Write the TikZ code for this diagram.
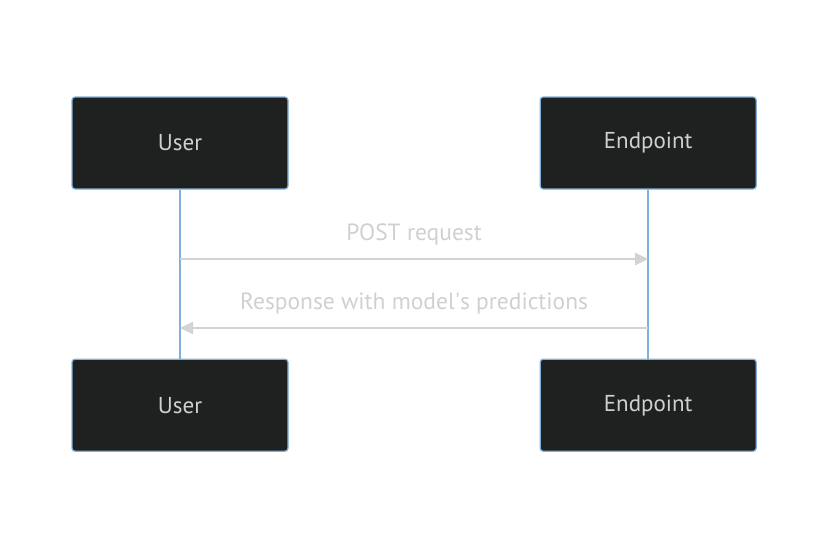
\documentclass[tikz,border=0pt]{standalone}
\usepackage{fontspec}
\setmainfont{PT Sans}
\usetikzlibrary{positioning,arrows.meta}

\definecolor{actorfill}{HTML}{1F2020}
\definecolor{actorline}{HTML}{81B1DB}
\definecolor{msgline}{HTML}{D3D3D3}
\definecolor{msgtext}{HTML}{D0D0D0}

\begin{document}
\begin{tikzpicture}[
    x=1pt, y=-1pt,
    actor/.style={
        rectangle,
        draw=actorline,
        fill=actorfill,
        line width=1.2pt,
        rounded corners=3pt,
        minimum width=216pt,
        minimum height=92pt,
        text=msgtext,
        font=\fontsize{23}{27}\selectfont
    },
    lifeline/.style={draw=actorline, line width=2.5pt},
    msg/.style={draw=msgline, line width=2pt, -{Triangle[length=13pt,width=12pt]}},
    msglabel/.style={text=msgtext, font=\fontsize{23.5}{27}\selectfont}
]

\useasboundingbox (0,0) rectangle (828,549);

\node[actor] (userTop) at (180,143) {User};
\node[actor] (endTop) [right=251pt of userTop] {Endpoint};
\node[actor] (userBot) [below=169pt of userTop] {User};
\node[actor] (endBot) [below=169pt of endTop] {Endpoint};

% lifelines
\draw[lifeline] (userTop) -- (userBot);
\draw[lifeline] (endTop) -- (endBot);

% messages
\coordinate (postA) at (userTop.south |- 0,259);
\coordinate (postB) at (endTop.south |- 0,259);
\coordinate (respA) at (endTop.south |- 0,328);
\coordinate (respB) at (userTop.south |- 0,328);

\draw[msg] (postA) -- node[msglabel, above=9pt] {POST request} (postB);
\draw[msg] (respA) -- node[msglabel, above=9pt] {Response with model\textquotesingle s predictions} (respB);

\end{tikzpicture}
\end{document}
